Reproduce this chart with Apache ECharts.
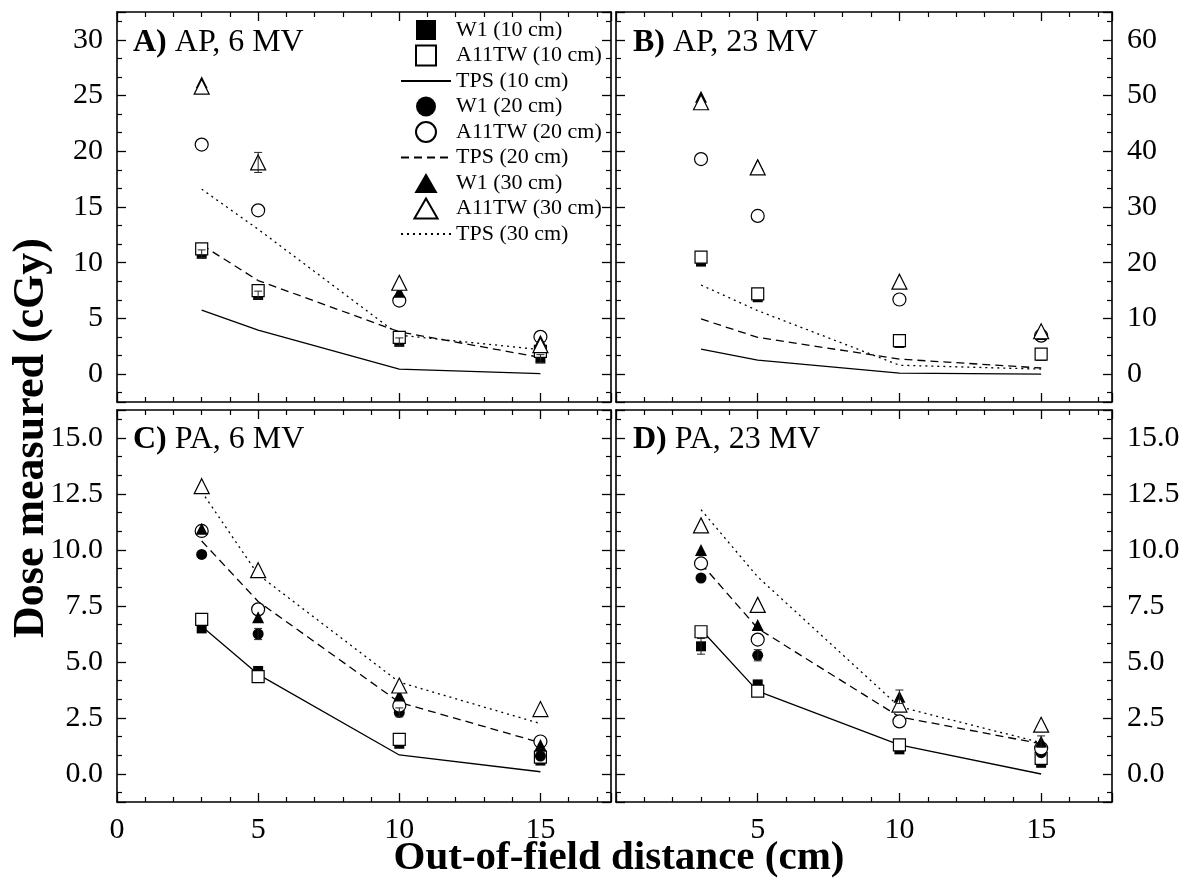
<!DOCTYPE html>
<html>
<head>
<meta charset="utf-8">
<script src="https://cdn.jsdelivr.net/npm/echarts@6/dist/echarts.min.js"></script>
<style>
  html, body { margin: 0; padding: 0; background: #fff; }
  #chart { width: 1189px; height: 878px; }
</style>
</head>
<body>
<div id="chart"></div>
<script>
// Out-of-field distances (cm) at which dose was measured
const distances = [3, 5, 10, 15];

const seriesNames = [
  'W1 (10 cm)', 'A11TW (10 cm)', 'TPS (10 cm)',
  'W1 (20 cm)', 'A11TW (20 cm)', 'TPS (20 cm)',
  'W1 (30 cm)', 'A11TW (30 cm)', 'TPS (30 cm)'
];

const panelLetters = ['A)', 'B)', 'C)', 'D)'];
const panelLabels = ['AP, 6 MV', 'AP, 23 MV', 'PA, 6 MV', 'PA, 23 MV'];

// Tick labels shown on the axes
const distanceTicks = [0, 5, 10, 15];
const doseTicksAP6 = [0, 5, 10, 15, 20, 25, 30];
const doseTicksAP23 = [0, 10, 20, 30, 40, 50, 60];
const doseTicksPA = [0, 2.5, 5, 7.5, 10, 12.5, 15];

// A) AP, 6 MV  (cGy)
const A_W1_10 = [10.8, 7.1, 2.9, 1.4];
const A_A11TW_10 = [11.25, 7.5, 3.3, 2.05];
const A_TPS_10 = [5.75, 3.95, 0.45, 0.05];
const A_W1_20 = [null, null, null, null];
const A_A11TW_20 = [20.6, 14.7, 6.6, 3.35];
const A_TPS_20 = [11.6, 8.4, 3.8, 1.5];
const A_W1_30 = [26.2, null, 7.4, 3.0];
const A_A11TW_30 = [25.8, 19.0, 8.2, 2.6];
const A_TPS_30 = [16.6, 13.0, 3.5, 2.2];

// B) AP, 23 MV
const B_W1_10 = [20.2, 13.8, 5.6, 3.3];
const B_A11TW_10 = [21.0, 14.4, 6.0, 3.6];
const B_TPS_10 = [4.5, 2.5, 0.2, 0.0];
const B_W1_20 = [null, null, null, null];
const B_A11TW_20 = [38.6, 28.4, 13.4, 6.9];
const B_TPS_20 = [9.9, 6.6, 2.7, 1.1];
const B_W1_30 = [49.8, 37.6, null, 7.2];
const B_A11TW_30 = [48.8, 37.1, 16.6, 7.7];
const B_TPS_30 = [16.0, 11.4, 1.6, 0.9];

// C) PA, 6 MV
const C_W1_10 = [6.5, 4.6, 1.35, 0.6];
const C_A11TW_10 = [6.9, 4.35, 1.55, 0.75];
const C_TPS_10 = [6.6, 4.45, 0.85, 0.1];
const C_W1_20 = [9.8, 6.25, 2.75, 0.8];
const C_A11TW_20 = [10.85, 7.35, 3.05, 1.45];
const C_TPS_20 = [10.4, 7.7, 3.2, 1.4];
const C_W1_30 = [10.95, 7.0, 3.5, 1.3];
const C_A11TW_30 = [12.85, 9.1, 3.95, 2.9];
const C_TPS_30 = [12.6, 8.9, 4.1, 2.25];

// D) PA, 23 MV
const D_W1_10 = [5.7, 4.0, 1.1, 0.5];
const D_A11TW_10 = [6.35, 3.7, 1.3, 0.7];
const D_TPS_10 = [6.45, 3.7, 1.3, 0.0];
const D_W1_20 = [8.75, 5.3, null, 0.95];
const D_A11TW_20 = [9.4, 6.0, 2.35, 1.15];
const D_TPS_20 = [9.4, 6.5, 2.55, 1.35];
const D_W1_30 = [10.0, 6.65, 3.45, 1.45];
const D_A11TW_30 = [11.1, 7.55, 3.1, 2.2];
const D_TPS_30 = [11.8, 8.8, 3.0, 1.4];

// Standard deviations of the measurements (cGy)
const A_W1_10_sd = [0.35, 0.35, 0.35, 0.35];
const A_A11TW_30_sd = [0, 0.9, 0, 0];
const C_W1_20_sd = [0, 0.25, 0.2, 0];
const D_W1_10_sd = [0.35, 0, 0, 0];
const D_W1_20_sd = [0, 0.25, 0, 0];
const D_W1_30_sd = [0, 0, 0.3, 0.25];

const panels = [
  { w1: [A_W1_10, A_W1_20, A_W1_30], a11: [A_A11TW_10, A_A11TW_20, A_A11TW_30], tps: [A_TPS_10, A_TPS_20, A_TPS_30],
    sd: [[A_W1_10, A_W1_10_sd], [A_A11TW_30, A_A11TW_30_sd]], ticks: doseTicksAP6 },
  { w1: [B_W1_10, B_W1_20, B_W1_30], a11: [B_A11TW_10, B_A11TW_20, B_A11TW_30], tps: [B_TPS_10, B_TPS_20, B_TPS_30],
    sd: [], ticks: doseTicksAP23 },
  { w1: [C_W1_10, C_W1_20, C_W1_30], a11: [C_A11TW_10, C_A11TW_20, C_A11TW_30], tps: [C_TPS_10, C_TPS_20, C_TPS_30],
    sd: [[C_W1_20, C_W1_20_sd]], ticks: doseTicksPA },
  { w1: [D_W1_10, D_W1_20, D_W1_30], a11: [D_A11TW_10, D_A11TW_20, D_A11TW_30], tps: [D_TPS_10, D_TPS_20, D_TPS_30],
    sd: [[D_W1_10, D_W1_10_sd], [D_W1_20, D_W1_20_sd], [D_W1_30, D_W1_30_sd]], ticks: doseTicksPA }
];

const FONT = 'Liberation Serif';
const INK = '#000';

// Panel frames (px)
const grids = [
  { left: 117, top: 12, width: 494, height: 390 },
  { left: 616, top: 12, width: 496, height: 390 },
  { left: 117, top: 410, width: 494, height: 392 },
  { left: 616, top: 410, width: 496, height: 392 }
];

// Visible dose window of each panel, and its major tick step
const doseWindows = [
  { min: -2.5, max: 32.5, step: 5 },
  { min: -5, max: 65, step: 10 },
  { min: -1.25, max: 16.25, step: 2.5 },
  { min: -1.25, max: 16.25, step: 2.5 }
];

const symbols = ['rect', 'circle', 'triangle'];
// Legend icons keep their aspect ratio when given as paths
const legendIcons = ['path://M0,0L19,0L19,19L0,19Z', 'circle', 'path://M11,0L22,19L0,19Z'];
const filledSize = [10, 11, 12];
const openSize = [12, 13, 15];
const lineTypes = ['solid', [8, 5], [2, 4]];

function pairs(values) {
  return distances.map((d, i) => [d, values[i]]);
}

const xAxes = [];
const yAxes = [];
grids.forEach((g, gi) => {
  const bottomRow = gi >= 2;
  ['bottom', 'top'].forEach(pos => {
    xAxes.push({
      type: 'value', gridIndex: gi, position: pos,
      min: 0, max: 17.5, interval: 5,
      axisLine: { show: true, onZero: false, lineStyle: { color: INK, width: 1.6 } },
      axisTick: { show: true, inside: true, length: 9, lineStyle: { color: INK, width: 1.3 } },
      minorTick: { show: true, splitNumber: 5, length: 5, lineStyle: { color: INK, width: 1.2 } },
      splitLine: { show: false },
      axisLabel: {
        show: bottomRow && pos === 'bottom',
        fontFamily: FONT, fontSize: 30, color: INK, margin: 13,
        showMinLabel: gi === 2, showMaxLabel: false,
        formatter: v => distanceTicks.includes(v) ? String(v) : ''
      }
    });
  });
  const w = doseWindows[gi];
  const ticks = panels[gi].ticks;
  const labelSide = (gi % 2 === 0) ? 'left' : 'right';
  ['left', 'right'].forEach(pos => {
    yAxes.push({
      type: 'value', gridIndex: gi, position: pos,
      min: w.min, max: w.max, minInterval: w.step, maxInterval: w.step, splitNumber: 7,
      axisLine: { show: true, onZero: false, lineStyle: { color: INK, width: 1.6 } },
      axisTick: { show: true, inside: true, length: 9, lineStyle: { color: INK, width: 1.3 } },
      minorTick: { show: true, splitNumber: 3, length: 5, lineStyle: { color: INK, width: 1.2 } },
      splitLine: { show: false },
      axisLabel: {
        show: pos === labelSide,
        fontFamily: FONT, fontSize: 30, color: INK, margin: pos === 'left' ? 14 : 15,
        showMinLabel: false, showMaxLabel: false,
        formatter: v => ticks.includes(v) ? (gi >= 2 ? v.toFixed(1) : String(v)) : ''
      }
    });
  });
});

const series = [];
panels.forEach((p, gi) => {
  const axes = { xAxisIndex: gi * 2, yAxisIndex: gi * 2 };
  for (let k = 0; k < 3; k++) {
    series.push({
      name: seriesNames[k * 3], type: 'scatter', ...axes,
      symbol: symbols[k], symbolSize: filledSize[k],
      itemStyle: { color: INK, borderColor: INK, borderWidth: 0, opacity: 1 },
      data: pairs(p.w1[k]), z: 3
    });
    series.push({
      name: seriesNames[k * 3 + 1], type: 'scatter', ...axes,
      symbol: symbols[k], symbolSize: openSize[k],
      itemStyle: { color: '#fff', borderColor: INK, borderWidth: 1.2, opacity: 1 },
      data: pairs(p.a11[k]), z: 3
    });
    series.push({
      name: seriesNames[k * 3 + 2], type: 'line', ...axes,
      symbol: 'none', showSymbol: false,
      lineStyle: { color: INK, width: 1.3, type: lineTypes[k] },
      itemStyle: { color: INK },
      data: pairs(p.tps[k]), z: 2
    });
  }
  p.sd.forEach(([vals, sd]) => {
    series.push({
      name: 'sd', type: 'custom', ...axes, z: 4, silent: true,
      data: distances.map((d, i) => [d, vals[i], sd[i]]).filter(r => r[1] != null && r[2] > 0),
      renderItem(params, api) {
        const x = api.value(0), y = api.value(1), e = api.value(2);
        const hi = api.coord([x, y + e]);
        const lo = api.coord([x, y - e]);
        const st = { stroke: '#222', lineWidth: 1 };
        return {
          type: 'group', children: [
            { type: 'line', shape: { x1: hi[0], y1: hi[1], x2: lo[0], y2: lo[1] }, style: st },
            { type: 'line', shape: { x1: hi[0] - 4, y1: hi[1], x2: hi[0] + 4, y2: hi[1] }, style: st },
            { type: 'line', shape: { x1: lo[0] - 4, y1: lo[1], x2: lo[0] + 4, y2: lo[1] }, style: st }
          ]
        };
      }
    });
  });
});

const legendData = seriesNames.map((name, i) => {
  const k = Math.floor(i / 3);
  if (i % 3 === 2) {
    // line entries: show the line only
    return { name, itemStyle: { opacity: 0 } };
  }
  return { name, icon: legendIcons[k] };
});

const titleTops = [27, 27, 424, 424];
const titleLefts = [133, 633, 133, 633];

const option = {
  backgroundColor: '#fff',
  animation: false,
  grid: grids.map(g => ({ ...g, containLabel: false, outerBoundsMode: 'none', show: false })),
  xAxis: xAxes,
  yAxis: yAxes,
  title: panelLetters.map((letter, i) => ({
    text: '{b|' + letter + '} {n|' + panelLabels[i] + '}',
    left: titleLefts[i], top: titleTops[i], padding: 0,
    textStyle: {
      fontFamily: FONT, fontSize: 32, color: INK,
      rich: {
        b: { fontFamily: FONT, fontSize: 32, fontWeight: 'bold', color: INK },
        n: { fontFamily: FONT, fontSize: 32, fontWeight: 'normal', color: INK }
      }
    }
  })),
  legend: {
    data: legendData,
    orient: 'vertical',
    left: 400, top: 19,
    itemWidth: 50, itemHeight: 20, itemGap: 3.5,
    padding: 0,
    selectedMode: false,
    symbolKeepAspect: true,
    textStyle: { fontFamily: FONT, fontSize: 22, lineHeight: 20, color: INK }
  },
  graphic: [
    {
      type: 'text', x: 32, y: 438, rotation: Math.PI / 2,
      style: {
        text: 'Dose measured (cGy)', fontFamily: FONT, fontSize: 44, fontWeight: 'bold',
        fill: INK, align: 'center', verticalAlign: 'middle'
      }
    },
    {
      type: 'text', x: 619, y: 858,
      style: {
        text: 'Out-of-field distance (cm)', fontFamily: FONT, fontSize: 41, fontWeight: 'bold',
        fill: INK, align: 'center', verticalAlign: 'middle'
      }
    }
  ],
  series: series
};

const chart = echarts.init(document.getElementById('chart'), null, { renderer: 'canvas' });
chart.setOption(option);
</script>
</body>
</html>
